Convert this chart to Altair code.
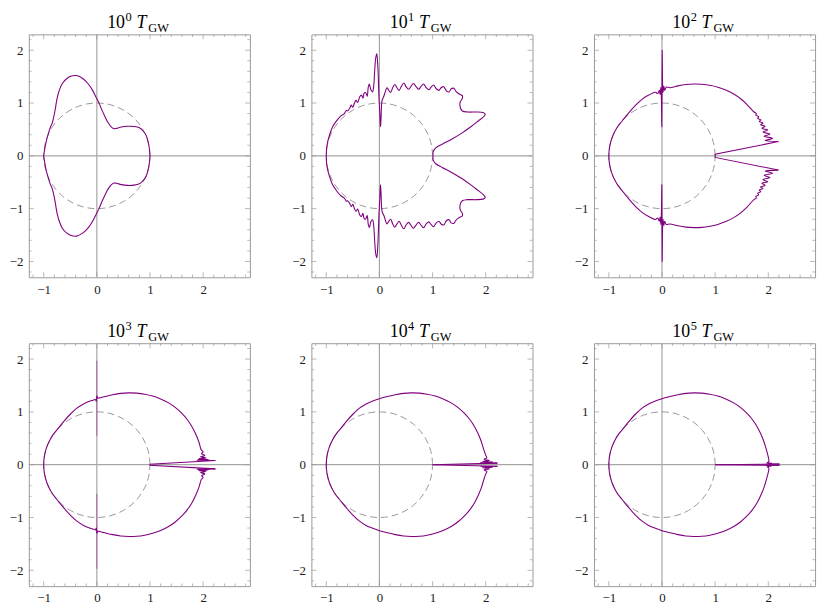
import altair as alt
import pandas as pd

# ---------------- data (upper halves; each curve is mirror-symmetric about y = 0) ----------------
exponents = ["0", "1", "2", "3", "4", "5"]

# panel 1 (10^0) - smooth closed curve, upper half from (1,0) to (-1,0)
p1_x = [1.00, 0.99, 0.97, 0.93, 0.87, 0.80, 0.70, 0.58, 0.46, 0.37, 0.32, 0.27, 0.21, 0.15, 0.09, 0.04,
        -0.01, -0.08, -0.16, -0.26, -0.38, -0.48, -0.57, -0.65, -0.71, -0.75, -0.78, -0.81, -0.84, -0.87,
        -0.91, -0.96, -0.985, -1.00]
p1_y = [0.00, 0.12, 0.24, 0.38, 0.47, 0.53, 0.555, 0.56, 0.545, 0.52, 0.515, 0.55, 0.63, 0.75, 0.88, 1.00,
        1.10, 1.24, 1.36, 1.46, 1.52, 1.51, 1.46, 1.37, 1.23, 1.08, 0.90, 0.74, 0.62, 0.55,
        0.43, 0.24, 0.10, 0.00]

# panel 2 (10^1)
p2_x = [1.01, 1.01, 1.06, 1.18, 1.35, 1.55, 1.72, 1.86, 1.96, 1.99, 1.95, 1.82, 1.66, 1.56, 1.52, 1.52,
        1.56, 1.56, 1.50, 1.44, 1.40, 1.35, 1.31, 1.26, 1.21, 1.16, 1.12, 1.07, 1.02, 0.97, 0.93, 0.88,
        0.83, 0.78, 0.74, 0.69, 0.64, 0.59, 0.55, 0.50, 0.46, 0.41, 0.37, 0.33, 0.29, 0.25, 0.21, 0.17,
        0.14, 0.11, 0.08, 0.05, 0.03, 0.02, 0.01, -0.01, -0.03, -0.05, -0.07, -0.09, -0.11, -0.13, -0.16,
        -0.19, -0.21, -0.23, -0.26, -0.29, -0.31, -0.34, -0.37, -0.41, -0.44, -0.47, -0.50, -0.53, -0.56,
        -0.60, -0.62, -0.66, -0.72, -0.80, -0.88, -0.94, -0.985, -1.00]
p2_y = [0.00, 0.07, 0.15, 0.22, 0.31, 0.43, 0.55, 0.66, 0.74, 0.79, 0.82, 0.83, 0.83, 0.85, 0.92, 1.02,
        1.09, 1.14, 1.17, 1.22, 1.28, 1.27, 1.21, 1.23, 1.31, 1.29, 1.24, 1.27, 1.34, 1.30, 1.25, 1.29,
        1.36, 1.31, 1.26, 1.31, 1.37, 1.31, 1.26, 1.31, 1.38, 1.31, 1.24, 1.29, 1.35, 1.29, 1.20, 1.25,
        1.29, 1.21, 1.12, 1.05, 0.70, 0.55, 0.75, 1.15, 1.70, 1.93, 1.85, 1.60, 1.30, 1.21, 1.25,
        1.36, 1.30, 1.13, 1.20, 1.18, 1.09, 1.15, 1.12, 1.01, 1.05, 1.00, 0.92, 0.96, 0.90,
        0.85, 0.86, 0.80, 0.76, 0.67, 0.55, 0.39, 0.21, 0.00]

# late-time oval shared by panels 3-6: right arc (x = 1.97 .. 0.15) and left arc (x = -0.125 .. -1)
oval_r_x = [1.965, 1.92, 1.86, 1.79, 1.70, 1.60, 1.48, 1.35, 1.20, 1.05, 0.90, 0.75, 0.60, 0.45, 0.30, 0.15]
oval_r_y = [0.28, 0.43, 0.58, 0.72, 0.855, 0.97, 1.08, 1.17, 1.245, 1.30, 1.335, 1.355, 1.36, 1.35, 1.325, 1.29]
oval_l_x = [-0.125, -0.25, -0.375, -0.50, -0.625, -0.75, -0.819, -0.883, -0.940, -0.978, -0.996, -1.00]
oval_l_y = [1.205, 1.15, 1.07, 0.955, 0.815, 0.66, 0.574, 0.469, 0.342, 0.208, 0.087, 0.00]

# panel 3 (10^2)
p3_notch_x = [1.00, 1.00, 2.19]
p3_notch_y = [0.00, 0.03, 0.27]
p3_wig_x = [2.19, 1.94, 2.08, 1.92, 2.03, 1.90, 1.99, 1.88, 1.94, 1.855, 1.90, 1.83, 1.86, 1.80, 1.82,
            1.765, 1.775, 1.73]
p3_wig_y = [0.27, 0.29, 0.33, 0.37, 0.41, 0.45, 0.49, 0.52, 0.56, 0.59, 0.62, 0.65, 0.68, 0.71, 0.74,
            0.77, 0.80, 0.83]
p3_mid_x = [0.08, 0.05, 0.035, 0.02, 0.01, 0.004, -0.004, -0.01, -0.02, -0.035, -0.05, -0.08]
p3_mid_y = [1.30, 1.24, 1.32, 1.20, 1.40, 2.00, 0.55, 1.05, 1.30, 1.16, 1.24, 1.18]

# panel 4 (10^3)
p4_notch_x = [1.00, 1.00, 2.23]
p4_notch_y = [0.00, 0.01, 0.08]
p4_wig_x = [2.23, 1.88, 2.12, 1.90, 2.08, 1.92, 2.05, 1.95, 2.03, 1.97, 2.00]
p4_wig_y = [0.08, 0.083, 0.09, 0.097, 0.105, 0.115, 0.13, 0.15, 0.175, 0.21, 0.24]
p4_mid_x = [0.05, 0.02, 0.00, -0.01, -0.03, -0.07]
p4_mid_y = [1.265, 1.26, 1.30, 1.20, 1.235, 1.22]
p4_spike_y = [0.55, 1.97]

# panel 5 (10^4)
p5_notch_x = [1.00, 2.22]
p5_notch_y = [0.00, 0.03]
p5_wig_x = [2.22, 1.90, 2.13, 1.94, 2.07, 1.97, 2.02, 2.00]
p5_wig_y = [0.03, 0.035, 0.05, 0.06, 0.08, 0.10, 0.13, 0.18]

# panel 6 (10^5)
p6_notch_x = [1.00, 2.21]
p6_notch_y = [0.00, 0.012]
p6_wig_x = [2.21, 1.96, 2.06, 1.98, 2.01, 2.005]
p6_wig_y = [0.012, 0.015, 0.025, 0.04, 0.06, 0.12]

mid_x = [0.00]
mid_y = [1.25]

# reference unit circle (dashed), 10-degree steps
circle_x = [1.0, 0.985, 0.940, 0.866, 0.766, 0.643, 0.5, 0.342, 0.174, 0.0, -0.174, -0.342, -0.5,
            -0.643, -0.766, -0.866, -0.940, -0.985, -1.0, -0.985, -0.940, -0.866, -0.766, -0.643, -0.5,
            -0.342, -0.174, 0.0, 0.174, 0.342, 0.5, 0.643, 0.766, 0.866, 0.940, 0.985, 1.0]
circle_y = [0.0, 0.174, 0.342, 0.5, 0.643, 0.766, 0.866, 0.940, 0.985, 1.0, 0.985, 0.940, 0.866,
            0.766, 0.643, 0.5, 0.342, 0.174, 0.0, -0.174, -0.342, -0.5, -0.643, -0.766, -0.866,
            -0.940, -0.985, -1.0, -0.985, -0.940, -0.866, -0.766, -0.643, -0.5, -0.342, -0.174, 0.0]

x_major = [-1, 0, 1, 2]
y_major = [-2, -1, 0, 1, 2]
x_minor = [-1.2, -0.8, -0.6, -0.4, -0.2, 0.2, 0.4, 0.6, 0.8, 1.2, 1.4, 1.6, 1.8, 2.2, 2.4, 2.6, 2.8]
y_minor = [-2.2, -1.8, -1.6, -1.4, -1.2, -0.8, -0.6, -0.4, -0.2, 0.2, 0.4, 0.6, 0.8, 1.2, 1.4, 1.6,
           1.8, 2.2]

X_DOMAIN = [-1.28, 2.88]
Y_DOMAIN = [-2.3, 2.3]
W, H = 223, 245
PURPLE = "#800080"
FRAME = "#9a9a9a"
SERIF = "Liberation Serif"


def mirrored(xs, ys, seg, kind, alpha=1.0):
    """Upper half followed by its mirror image (traversed backwards) -> one path."""
    rows = [{"seg": seg, "kind": kind, "order": i, "x": x, "y": y, "alpha": alpha}
            for i, (x, y) in enumerate(zip(xs, ys))]
    n = len(xs)
    idx = list(range(n - 1, -1, -1))
    if ys[-1] == 0:
        idx = idx[1:]
    for k, i in enumerate(idx):
        rows.append({"seg": seg, "kind": kind, "order": n + k, "x": xs[i], "y": -ys[i], "alpha": alpha})
    return rows


def two_halves(xs, ys, seg, kind, alpha=1.0):
    """Open piece in the upper half plus its mirror as a separate piece."""
    rows = []
    for name, sgn in ((seg + "_u", 1), (seg + "_d", -1)):
        for i, (x, y) in enumerate(zip(xs, ys)):
            rows.append({"seg": name, "kind": kind, "order": i, "x": x, "y": sgn * y, "alpha": alpha})
    return rows


def late(wig_x, wig_y, mx, my, start=0):
    xs = wig_x + oval_r_x[start:] + mx + oval_l_x
    ys = wig_y + oval_r_y[start:] + my + oval_l_y
    return xs, ys


p3_x, p3_y = late(p3_wig_x, p3_wig_y, p3_mid_x, p3_mid_y, start=5)
p4_x, p4_y = late(p4_wig_x, p4_wig_y, p4_mid_x, p4_mid_y)
p5_x, p5_y = late(p5_wig_x, p5_wig_y, mid_x, mid_y)
p6_x, p6_y = late(p6_wig_x, p6_wig_y, mid_x, mid_y)

curves = [
    mirrored(p1_x, p1_y, "c", "smooth"),
    mirrored(p2_x, p2_y, "c", "smooth"),
    mirrored(p3_x, p3_y, "c", "smooth") + two_halves(p3_notch_x, p3_notch_y, "n", "linear"),
    mirrored(p4_x, p4_y, "c", "smooth") + two_halves(p4_notch_x, p4_notch_y, "n", "linear")
    + two_halves([0.0, 0.0], p4_spike_y, "s", "linear", 0.45),
    mirrored(p5_x, p5_y, "c", "smooth") + two_halves(p5_notch_x, p5_notch_y, "n", "linear"),
    mirrored(p6_x, p6_y, "c", "smooth") + two_halves(p6_notch_x, p6_notch_y, "n", "linear"),
]

circle_df = pd.DataFrame({"order": list(range(len(circle_x))), "x": circle_x, "y": circle_y})
zero_df = pd.DataFrame({"v": [0]})
xmaj_df = pd.DataFrame({"v": x_major})
xmin_df = pd.DataFrame({"v": x_minor})
ymaj_df = pd.DataFrame({"v": y_major})
ymin_df = pd.DataFrame({"v": y_minor})

xscale = alt.Scale(domain=X_DOMAIN, nice=False, zero=False)
yscale = alt.Scale(domain=Y_DOMAIN, nice=False, zero=False)
xaxis = alt.Axis(values=x_major, title=None, ticks=False, tickSize=0, domain=False, grid=False,
                 labelFont=SERIF, labelFontSize=13, labelColor="#1a1a1a", labelPadding=6,
                 format="d")
yaxis = alt.Axis(values=y_major, title=None, ticks=False, tickSize=0, domain=False, grid=False,
                 labelFont=SERIF, labelFontSize=13, labelColor="#1a1a1a", labelPadding=6,
                 format="d")


def X(field):
    return alt.X(field, type="quantitative", scale=xscale, axis=xaxis)


def Y(field):
    return alt.Y(field, type="quantitative", scale=yscale, axis=yaxis)


def panel(i):
    cdf = pd.DataFrame(curves[i])
    sdf = cdf[cdf["kind"] == "smooth"]
    ldf = cdf[cdf["kind"] == "linear"]
    tdf = pd.DataFrame({"base": ["10"], "exp": [exponents[i]], "T": ["T"], "sub": ["GW"]})

    layers = [
        alt.Chart(zero_df).mark_rule(color="#a6a6a6", strokeWidth=1.2).encode(x=X("v")),
        alt.Chart(zero_df).mark_rule(color="#a6a6a6", strokeWidth=1.2).encode(y=Y("v")),
        alt.Chart(circle_df).mark_line(color="#8c8c8c", strokeWidth=0.9, strokeDash=[7, 4],
                                       interpolate="catmull-rom").encode(
            x=X("x"), y=Y("y"), order="order:Q"),
        alt.Chart(sdf).mark_line(color=PURPLE, strokeWidth=1.1, interpolate="catmull-rom").encode(
            x=X("x"), y=Y("y"), order="order:Q", detail="seg:N"),
    ]
    if len(ldf):
        layers.append(alt.Chart(ldf).mark_line(color=PURPLE, strokeWidth=1.1).encode(
            x=X("x"), y=Y("y"), order="order:Q", detail="seg:N",
            opacity=alt.Opacity("alpha:Q", scale=None)))

    for df, size in ((xmaj_df, 5), (xmin_df, 2.7)):
        for yy in (H - size / 2, size / 2):
            layers.append(alt.Chart(df).mark_tick(color=FRAME, size=size, thickness=1,
                                                  orient="vertical").encode(x=X("v"), y=alt.value(yy)))
    for df, size in ((ymaj_df, 5), (ymin_df, 2.7)):
        for xx in (size / 2, W - size / 2):
            layers.append(alt.Chart(df).mark_tick(color=FRAME, size=size, thickness=1,
                                                  orient="horizontal").encode(y=Y("v"), x=alt.value(xx)))

    layers += [
        alt.Chart(tdf).mark_text(font=SERIF, fontSize=18, align="left", baseline="alphabetic",
                                 color="#000").encode(text="base:N", x=alt.value(79), y=alt.value(-6)),
        alt.Chart(tdf).mark_text(font=SERIF, fontSize=12.5, align="left", baseline="alphabetic",
                                 color="#000").encode(text="exp:N", x=alt.value(97.5), y=alt.value(-13)),
        alt.Chart(tdf).mark_text(font=SERIF, fontSize=18, fontStyle="italic", align="left",
                                 baseline="alphabetic", color="#000").encode(
            text="T:N", x=alt.value(108.5), y=alt.value(-6)),
        alt.Chart(tdf).mark_text(font=SERIF, fontSize=12.5, align="left", baseline="alphabetic",
                                 color="#000").encode(text="sub:N", x=alt.value(120.5), y=alt.value(-2)),
    ]
    return alt.layer(*layers).properties(width=W, height=H)


row1 = alt.hconcat(panel(0), panel(1), panel(2), spacing=39)
row2 = alt.hconcat(panel(3), panel(4), panel(5), spacing=39)
chart = alt.vconcat(row1, row2, spacing=22.5).properties(
    padding={"left": 0, "top": 0, "right": 5, "bottom": 5}, background="white"
).configure_view(stroke=FRAME, strokeWidth=1).configure_axis(
    labelFont=SERIF, labelFontSize=13, labelColor="#1a1a1a")

chart.save("out.html", embed_options={"renderer": "svg", "actions": False})
